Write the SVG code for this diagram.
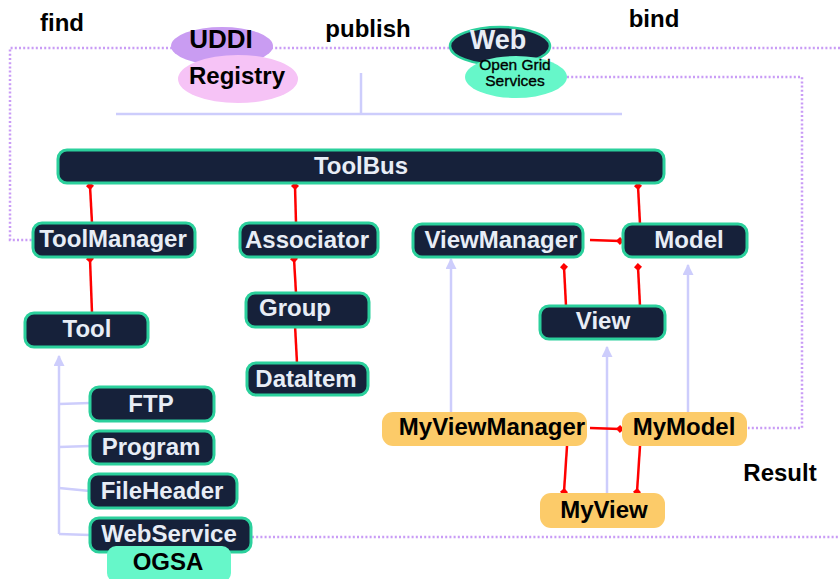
<svg xmlns="http://www.w3.org/2000/svg" width="840" height="579" viewBox="0 0 840 579">
  <defs>
    <style>
      text { font-family: "Liberation Sans", Arial, sans-serif; font-weight: bold; font-size: 24px; text-anchor: middle; }
      .dark rect { fill: #16213a; stroke: #2bd09c; stroke-width: 3; }
      .dark text { fill: #e8edf6; }
      .mine rect { fill: #fccb69; }
      .mine text { fill: #000; }
      .label { fill: #000; }
      .small { font-size: 15.5px; font-weight: normal; stroke: #000; stroke-width: 0.35; }
      .dot { fill: none; stroke: #c99cf6; stroke-width: 2.5; stroke-dasharray: 2 2.2; }
      .red { fill: none; stroke: #ff0000; stroke-width: 2.5; marker-end: url(#dia); }
      .lav { fill: none; stroke: #cdcdfc; stroke-width: 2.5; }
      .lavA { fill: none; stroke: #cdcdfc; stroke-width: 2.5; marker-end: url(#tri); }
    </style>
    <marker id="dia" viewBox="0 0 8 8" refX="4" refY="4" markerWidth="8" markerHeight="8" markerUnits="userSpaceOnUse" orient="auto">
      <path d="M0,4 L4,0 L8,4 L4,8 Z" fill="#ff0000"/>
    </marker>
    <marker id="tri" viewBox="0 0 10 10" refX="9" refY="5" markerWidth="11" markerHeight="11" markerUnits="userSpaceOnUse" orient="auto">
      <path d="M0,0 L10,5 L0,10 Z" fill="#cdcdfc"/>
    </marker>
  </defs>

  <rect width="840" height="579" fill="#ffffff"/>

  <!-- connectors -->
  <g id="connectors">
    <!-- registry links (dotted) -->
    <polyline class="dot" points="840,48 10,48 10,240 34,240"/>
    <polyline class="dot" points="567,77 802,77 802,428 748,428"/>
    <line class="dot" x1="252" y1="537" x2="840" y2="537"/>
    <!-- service bus -->
    <line class="lav" x1="116" y1="114" x2="622" y2="114"/>
    <line class="lav" x1="361" y1="73" x2="361" y2="114"/>
    <!-- tool specialisations -->
    <line class="lavA" x1="59" y1="534" x2="59" y2="356"/>
    <line class="lav" x1="59" y1="404" x2="90" y2="403"/>
    <line class="lav" x1="59" y1="447" x2="90" y2="446"/>
    <line class="lav" x1="59" y1="488" x2="90" y2="491"/>
    <line class="lav" x1="59" y1="534" x2="90" y2="535"/>
    <!-- user classes to framework -->
    <line class="lavA" x1="451" y1="412" x2="451" y2="259"/>
    <line class="lavA" x1="607" y1="493" x2="607" y2="347"/>
    <line class="lavA" x1="688" y1="412" x2="688" y2="265"/>
    <!-- associations -->
    <line class="red" x1="92" y1="223" x2="90" y2="186"/>
    <line class="red" x1="296" y1="223" x2="295" y2="186"/>
    <line class="red" x1="640" y1="224" x2="638" y2="186"/>
    <line class="red" x1="92" y1="313" x2="90" y2="259"/>
    <line class="red" x1="296" y1="293" x2="294" y2="259"/>
    <line class="red" x1="297" y1="363" x2="295" y2="325"/>
    <line class="red" x1="590" y1="240" x2="620" y2="241"/>
    <line class="red" x1="566" y1="306" x2="564" y2="267"/>
    <line class="red" x1="640" y1="306" x2="638" y2="267"/>
    <line class="red" x1="590" y1="428" x2="620" y2="429"/>
    <line class="red" x1="567" y1="446" x2="564" y2="492"/>
    <line class="red" x1="640" y1="446" x2="637" y2="492"/>
  </g>

  <!-- registry and grid services -->
  <g id="uddi">
    <ellipse cx="222" cy="46" rx="51" ry="19" fill="#c99cf2"/>
    <ellipse cx="238" cy="79" rx="60" ry="24" fill="#f6c3f6"/>
    <text class="label" x="221" y="48" style="font-size:26px">UDDI</text>
    <text class="label" x="237" y="84">Registry</text>
  </g>
  <g id="web">
    <ellipse cx="500" cy="46" rx="50" ry="19" fill="#16213a" stroke="#2bd09c" stroke-width="2.5"/>
    <ellipse cx="516" cy="77" rx="51" ry="21" fill="#66f7c9"/>
    <text x="498" y="49" fill="#e8edf6" style="font-size:27px">Web</text>
    <text class="label small" x="515" y="70">Open Grid</text>
    <text class="label small" x="515" y="86">Services</text>
  </g>

  <!-- labels -->
  <g id="labels">
    <text class="label" x="62" y="31">find</text>
    <text class="label" x="368" y="37">publish</text>
    <text class="label" x="654" y="27">bind</text>
    <text class="label" x="780" y="481">Result</text>
  </g>

  <!-- framework classes -->
  <g id="toolbus" class="dark"><rect x="58" y="150" width="606" height="33" rx="9"/><text x="361" y="174">ToolBus</text></g>
  <g id="toolmanager" class="dark"><rect x="33" y="223" width="162" height="34" rx="9"/><text x="113" y="247">ToolManager</text></g>
  <g id="associator" class="dark"><rect x="240" y="223" width="138" height="34" rx="9"/><text x="307" y="248">Associator</text></g>
  <g id="viewmanager" class="dark"><rect x="413" y="224" width="170" height="33" rx="9"/><text x="501" y="248">ViewManager</text></g>
  <g id="model" class="dark"><rect x="623" y="224" width="124" height="33" rx="9"/><text x="689" y="248">Model</text></g>
  <g id="tool" class="dark"><rect x="25" y="313" width="123" height="34" rx="9"/><text x="87" y="337">Tool</text></g>
  <g id="group" class="dark"><rect x="246" y="293" width="123" height="34" rx="9"/><text x="295" y="316">Group</text></g>
  <g id="view" class="dark"><rect x="540" y="306" width="125" height="33" rx="9"/><text x="603" y="329">View</text></g>
  <g id="dataitem" class="dark"><rect x="247" y="363" width="121" height="32" rx="9"/><text x="306" y="387">DataItem</text></g>
  <g id="ftp" class="dark"><rect x="90" y="387" width="124" height="34" rx="9"/><text x="151" y="412">FTP</text></g>
  <g id="program" class="dark"><rect x="90" y="431" width="124" height="33" rx="9"/><text x="151" y="455">Program</text></g>
  <g id="fileheader" class="dark"><rect x="89" y="474" width="148" height="34" rx="9"/><text x="162" y="499">FileHeader</text></g>
  <g id="webservice" class="dark"><rect x="90" y="518" width="161" height="34" rx="9"/><text x="169" y="542">WebService</text></g>
  <g id="ogsa"><rect x="107" y="546" width="124" height="36" rx="9" fill="#66f7c9"/><text class="label" x="168" y="570">OGSA</text></g>

  <!-- user classes -->
  <g id="myviewmanager" class="mine"><rect x="382" y="412" width="205" height="34" rx="11"/><text x="492" y="435">MyViewManager</text></g>
  <g id="mymodel" class="mine"><rect x="622" y="412" width="125" height="34" rx="11"/><text x="684" y="435">MyModel</text></g>
  <g id="myview" class="mine"><rect x="540" y="493" width="125" height="35" rx="11"/><text x="604" y="518">MyView</text></g>
</svg>
